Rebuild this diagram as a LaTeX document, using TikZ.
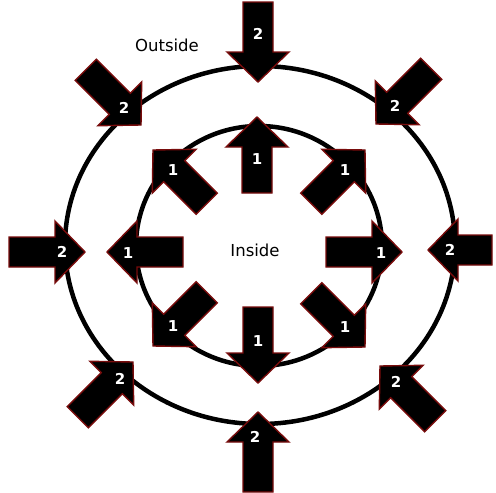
\documentclass[tikz,border=0pt]{standalone}
\usepackage{fontspec}
\setmainfont{DejaVu Sans}
\usetikzlibrary{positioning}
\definecolor{arrowred}{RGB}{120,12,12}
\tikzset{
  ring/.style={draw=black, line width=4.5pt},
  blockarrow/.style={fill=black, draw=arrowred, line width=1.4pt, line join=miter},
  numlabel/.style={text=white, font=\bfseries\fontsize{15}{15}\selectfont, inner sep=0pt},
  zonelabel/.style={font=\fontsize{16.5}{16.5}\selectfont, inner sep=0pt}
}
\begin{document}
\begin{tikzpicture}[x=1pt, y=-1pt]
  \useasboundingbox[fill=white] (0,0) rectangle (496,493);
  % the two rings
  \coordinate (mid) at (260,245);
  \draw[ring] (mid) ellipse [x radius=195pt, y radius=179pt];
  \draw[ring] (259,246) ellipse [x radius=123pt, y radius=120pt];
  % block arrows: tip x / tip y / direction / length / label x / label y / number / name
  \foreach \tx/\ty/\ang/\len/\lx/\ly/\num/\nm in {
      258/82/270/80/258/34/2/oN, 376/124/225/78/395/106/2/oNE,
      428/250/180/64/450/250/2/oE, 380/366/135/78/396/382/2/oSE,
      258/412/90/80/255/437/2/oS, 133/362/45/78/120/379/2/oSW,
      85/252/0/76/62/252/2/oW, 141/125/315/78/124/108/2/oNW,
      257/117/90/76/257/159/1/iN, 365/150/45/76/345/170/1/iNE,
      402/252/0/76/381/253/1/iE, 365/347/315/76/345/327/1/iSE,
      258/383/270/76/258/341/1/iS, 153/346/225/76/173/326/1/iSW,
      107/252/180/76/128/253/1/iW, 153/150/135/76/173/170/1/iNW}{
    \begin{scope}[shift={(\tx,\ty)}, rotate=\ang]
      \draw[blockarrow] (0,0) -- (-30,31) -- (-30,15) -- (-\len,15)
        -- (-\len,-15) -- (-30,-15) -- (-30,-31) -- cycle;
    \end{scope}
    \node[numlabel] (\nm) at (\lx,\ly) {\num};
  }
  % zone names
  \node[zonelabel] (outside) at (167,45) {Outside};
  \node[zonelabel] (inside) at (255,250) {Inside};
\end{tikzpicture}
\end{document}
